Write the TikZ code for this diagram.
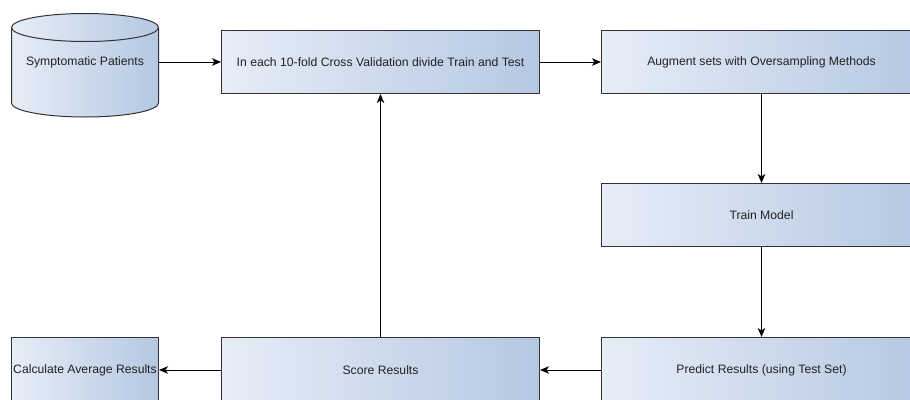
\documentclass[tikz,border=0pt]{standalone}
\usepackage{fontspec}
\setmainfont{Liberation Sans}
\usetikzlibrary{arrows.meta}
\definecolor{gradL}{HTML}{E6EDF7}
\definecolor{gradR}{HTML}{B5C8E2}
\definecolor{edge}{HTML}{333333}
\definecolor{txt}{HTML}{222222}
\tikzset{
  lbl/.style={text=txt, font=\fontsize{12.2}{14}\selectfont},
  box/.style={draw=edge, line width=1pt, left color=gradL, right color=gradR,
    rectangle, anchor=north west, inner sep=0pt, lbl},
  conn/.style={draw=black, line width=1pt, -{Stealth[length=9pt,width=7.5pt,inset=2.5pt]}},
}
\begin{document}
\begin{tikzpicture}[x=1pt,y=-1pt]
\useasboundingbox (0,0) rectangle (910,399);
\clip (0,0) rectangle (910,399);
% cylinder
\node[minimum width=147pt, minimum height=104pt, inner sep=0pt, anchor=north west] (cyl) at (11.5,13.5) {};
\shade[left color=gradL, right color=gradR]
  (11.5,27.5) -- (11.5,103) arc (180:360:73.5pt and 14pt) -- (158.5,27.5)
  arc (0:180:73.5pt and 14pt) -- cycle;
\draw[edge, line width=1pt]
  (11.5,27.5) -- (11.5,103) arc (180:360:73.5pt and 14pt) -- (158.5,27.5)
  arc (0:180:73.5pt and 14pt) -- cycle;
\draw[edge, line width=1pt] (11.5,27.5) arc (180:360:73.5pt and 14pt);
\node[lbl] at (85,62) {Symptomatic Patients};
% boxes
\node[box, minimum width=318pt, minimum height=63pt] (b1) at (221,30) {In each 10-fold Cross Validation divide Train and Test};
\node[box, minimum width=320pt, minimum height=63pt] (b2) at (601,30) {};
\node[lbl] at (b2.center) {Augment sets with Oversampling Methods};
\node[box, minimum width=320pt, minimum height=63pt] (b3) at (601,183) {};
\node[lbl] at (b3.center) {Train Model};
\node[box, minimum width=320pt, minimum height=63pt] (b4) at (601,337) {};
\node[lbl] at ([yshift=-1pt]b4.center) {Predict Results (using Test Set)};
\node[box, minimum width=318pt, minimum height=63pt] (sc) at (221,337) {};
\node[lbl] at ([yshift=-1pt]sc.center) {Score Results};
\node[box, minimum width=147pt, minimum height=63pt] (ca) at (11,337) {};
\node[lbl] at ([yshift=-1pt]ca.center) {Calculate Average Results};
% connectors
\draw[conn] (cyl.east |- b1.west) -- (b1.west);
\draw[conn] (b1.east) -- (b2.west);
\draw[conn] (b2.south) -- (b3.north);
\draw[conn] (b3.south) -- (b4.north);
\draw[conn] ([yshift=-1pt]b4.west) -- ([yshift=-1pt]sc.east);
\draw[conn] ([yshift=-1pt]sc.west) -- ([yshift=-1pt]ca.east);
\draw[conn] (sc.north) -- (b1.south);
\end{tikzpicture}
\end{document}
